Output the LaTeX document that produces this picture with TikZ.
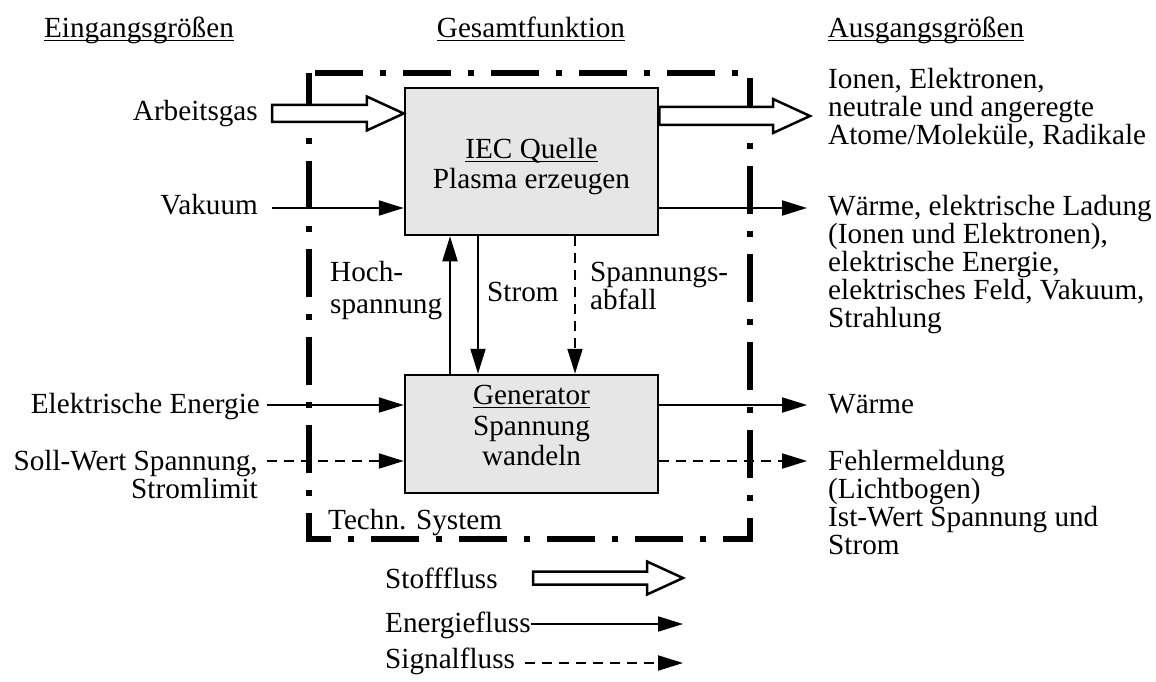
\documentclass[tikz,border=0pt]{standalone}
\usepackage{fontspec}
\setmainfont{Liberation Serif}
\usetikzlibrary{arrows.meta,calc}
\definecolor{boxgray}{RGB}{230,230,230}
\newsavebox\ulbox
\newcommand\ulin[1]{\sbox\ulbox{#1}\rlap{\rule[-4pt]{\wd\ulbox}{1.5pt}}\usebox\ulbox}
\newcommand\hollowarrow[5]{%
  \draw[hollow] ($(#1)+(0,#3)$) -- ($(#2)+(-#5,#3)$) -- ($(#2)+(-#5,#4)$) -- (#2)
    -- ($(#2)+(-#5,-#4)$) -- ($(#2)+(-#5,-#3)$) -- ($(#1)+(0,-#3)$) -- cycle;}
\begin{document}
\begin{tikzpicture}[x=1pt,y=-1pt,
  font=\fontsize{29.2}{28.5}\selectfont,
  lbl/.style={inner sep=0pt},
  flow/.style={line width=2pt,-{Triangle[length=25pt,width=15pt]}},
  sig/.style={flow,dash pattern=on 10pt off 7pt},
  hollow/.style={line width=2.5pt,fill=white,line join=miter},
  fbox/.style={draw,line width=2.5pt,fill=boxgray,inner sep=0pt},
  sysb/.style={line width=5.5pt,dash pattern=on 48pt off 17pt on 6pt off 17pt}]
\useasboundingbox (0,0) rectangle (1156,682);

% headers
\node[lbl,anchor=base] (hin) at (139,37.5) {\ulin{Eingangsgrößen}};
\node[lbl,anchor=base] (hge) at (531,37.5) {\ulin{Gesamtfunktion}};
\node[lbl,anchor=base] (hau) at (926,37.5) {\ulin{Ausgangsgrößen}};

% system boundary
\draw[sysb] (309,73) rectangle (750,539);
\node[lbl,anchor=base west] (tsys) at (328,529) {Techn. System};

% function boxes
\node[fbox,minimum width=253pt,minimum height=147pt] (iec) at (531.5,161.5) {};
\node[fbox,minimum width=253pt,minimum height=118pt] (gen) at (531.5,434) {};
\node[lbl,anchor=base] (iec1) at (531.5,158) {\ulin{IEC Quelle}};
\node[lbl,anchor=base] (iec2) at (531.5,188) {Plasma erzeugen};
\node[lbl,anchor=base] (gen1) at (531.5,404) {\ulin{Generator}};
\node[lbl,anchor=base] (gen2) at (531.5,435) {Spannung};
\node[lbl,anchor=base] (gen3) at (531.5,465) {wandeln};

% inputs
\node[lbl,anchor=base east] (arb) at (258,121) {Arbeitsgas};
\node[lbl,anchor=base east] (vak) at (258,214) {Vakuum};
\node[lbl,anchor=base east] (eel) at (260,413) {Elektrische Energie};
\node[lbl,anchor=base east] (sol1) at (258,470) {Soll-Wert Spannung,};
\node[lbl,anchor=base east] (sol2) at (258,498) {Stromlimit};

\coordinate (arbS) at ($(arb.base east)+(14,-7.5)$);
\coordinate (arbT) at (arbS -| iec.west);
\hollowarrow{arbS}{arbT}{8.5}{17}{37}
\draw[flow] ($(vak.base east)+(14,-6)$) coordinate (v0) -- (v0 -| iec.west);
\draw[flow] ($(eel.base east)+(7,-8)$) coordinate (e0) -- (e0 -| gen.west);
\draw[sig] ($(sol1.base east)+(9,-9)$) coordinate (s0) -- (s0 -| gen.west);

% outputs
\node[lbl,anchor=base west] (ion1) at (828,89) {Ionen, Elektronen,};
\node[lbl,anchor=base west] (ion2) at (828,116.5) {neutrale und angeregte};
\node[lbl,anchor=base west] (ion3) at (828,144) {Atome/Moleküle, Radikale};
\node[lbl,anchor=base west] (war1) at (828,215) {Wärme, elektrische Ladung};
\node[lbl,anchor=base west] (war2) at (828,243) {(Ionen und Elektronen),};
\node[lbl,anchor=base west] (war3) at (828,271) {elektrische Energie,};
\node[lbl,anchor=base west] (war4) at (828,299) {elektrisches Feld, Vakuum,};
\node[lbl,anchor=base west] (war5) at (828,327) {Strahlung};
\node[lbl,anchor=base west] (wae) at (828,413) {Wärme};
\node[lbl,anchor=base west] (feh1) at (828,470) {Fehlermeldung};
\node[lbl,anchor=base west] (feh2) at (828,498) {(Lichtbogen)};
\node[lbl,anchor=base west] (feh3) at (828,526) {Ist-Wert Spannung und};
\node[lbl,anchor=base west] (feh4) at (828,554) {Strom};

\coordinate (ionT) at ($(ion2.base west)+(-18,-0.5)$);
\coordinate (ionS) at (ionT -| iec.east);
\hollowarrow{ionS}{ionT}{9}{17}{37}
\draw[flow] ($(war1.base west)+(-21,-7)$) coordinate (w0) (w0 -| iec.east) -- (w0);
\draw[flow] ($(wae.base west)+(-21,-8)$) coordinate (w1) (w1 -| gen.east) -- (w1);
\draw[sig] ($(feh1.base west)+(-21,-9)$) coordinate (f1) (f1 -| gen.east) -- (f1);

% internal flows
\coordinate (xh) at (450,0);
\coordinate (xs) at (478,0);
\coordinate (xa) at (575,0);
\draw[flow] (xh |- gen.north) -- (xh |- iec.south);
\draw[flow] (xs |- iec.south) -- (xs |- gen.north);
\draw[sig] (xa |- iec.south) -- (xa |- gen.north);
\node[lbl,anchor=base west] (hoc1) at (330,281) {Hoch-};
\node[lbl,anchor=base west] (hoc2) at (330,313) {spannung};
\node[lbl,anchor=base west] (str) at (487,301) {Strom};
\node[lbl,anchor=base west] (spa1) at (590,281) {Spannungs-};
\node[lbl,anchor=base west] (spa2) at (590,309) {abfall};

% legend
\node[lbl,anchor=base west] (lst) at (385,588) {Stofffluss};
\node[lbl,anchor=base west] (len) at (385,632) {Energiefluss};
\node[lbl,anchor=base west] (lsi) at (385,668) {Signalfluss};
\coordinate (ltip) at (683,0);
\coordinate (lS) at (533,578);
\coordinate (lT) at (lS -| ltip);
\hollowarrow{lS}{lT}{6.5}{16.5}{36}
\draw[flow] ($(len.base east)+(0,-8)$) coordinate (l2) -- (l2 -| ltip);
\draw[sig] ($(lsi.base east)+(10,-5)$) coordinate (l3) -- (l3 -| ltip);
\end{tikzpicture}
\end{document}
